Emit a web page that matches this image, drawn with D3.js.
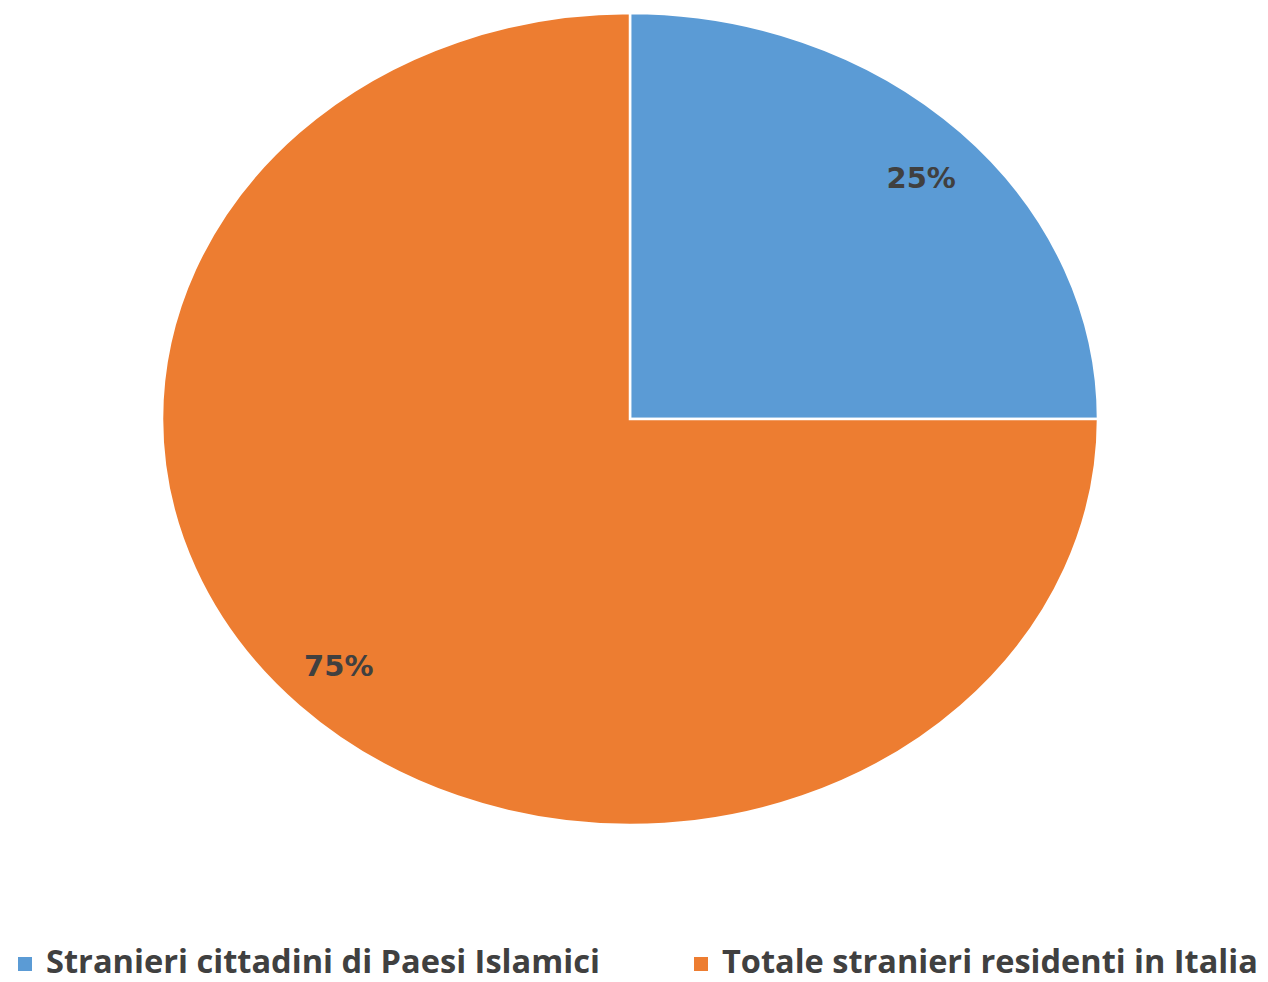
<!DOCTYPE html>
<html>
<head>
<meta charset="utf-8">
<script src="https://cdn.jsdelivr.net/npm/d3@7"></script>
<style>
	body { margin: 0; background: #fff; }
	text { font-family: "Open Sans", "DejaVu Sans", sans-serif; font-weight: bold; fill: #404040; }
</style>
</head>
<body>
<div id="chart"></div>
<script>
var categories = ['Stranieri cittadini di Paesi Islamici', 'Totale stranieri residenti in Italia'];
var values = [25, 75];
var colors = ['#5B9BD5', '#ED7D31'];

var width = 1268, height = 982;
var cx = 630, cy = 419;
var rx = 468, ry = 406;

var svg = d3.select('#chart')
	.append('svg')
	.attr('width', width)
	.attr('height', height);

var pie = d3.pie().sort(null).value(function (d) { return d; });
var slices = pie(values);

// unit arc, stretched into an ellipse below
var arc = d3.arc().innerRadius(0).outerRadius(1);
var labelArc = d3.arc().innerRadius(0.88).outerRadius(0.88);

var g = svg.append('g')
	.attr('transform', 'translate(' + cx + ',' + cy + ') scale(' + rx + ',' + ry + ')');

g.selectAll('path')
	.data(slices)
	.enter()
	.append('path')
	.attr('d', arc)
	.attr('fill', function (d, i) { return colors[i]; })
	.attr('stroke', '#fff')
	.attr('stroke-width', 2.5)
	.attr('vector-effect', 'non-scaling-stroke');

var total = d3.sum(values);
svg.selectAll('text.lbl')
	.data(slices)
	.enter()
	.append('text')
	.attr('class', 'lbl')
	.attr('x', function (d) { return cx + labelArc.centroid(d)[0] * rx; })
	.attr('y', function (d) { return cy + 3 + labelArc.centroid(d)[1] * (ry - 14); })
	.attr('text-anchor', 'middle')
	.attr('dominant-baseline', 'central')
	.style('font-family', '"DejaVu Sans", sans-serif')
	.style('font-size', '29px')
	.text(function (d) { return d3.format('.0%')(d.value / total); });

//legend
var legendX = [18, 694];
var legendW = [554, 536];
var legend = svg.selectAll('g.legend')
	.data(categories)
	.enter()
	.append('g')
	.attr('class', 'legend')
	.attr('transform', function (d, i) { return 'translate(' + legendX[i] + ',960)'; });

legend.append('rect')
	.attr('x', 0)
	.attr('y', -3)
	.attr('width', 14)
	.attr('height', 14)
	.attr('fill', function (d, i) { return colors[i]; });

legend.append('text')
	.attr('x', 28)
	.attr('y', 0)
	.attr('dominant-baseline', 'central')
	.style('font-size', '28px')
	.text(function (d) { return d; })
	.each(function (d, i) {
		// fit the natural width to the reference
		var w = this.getComputedTextLength();
		d3.select(this).style('font-size', (28 * legendW[i] / w) + 'px');
	});
</script>
</body>
</html>
